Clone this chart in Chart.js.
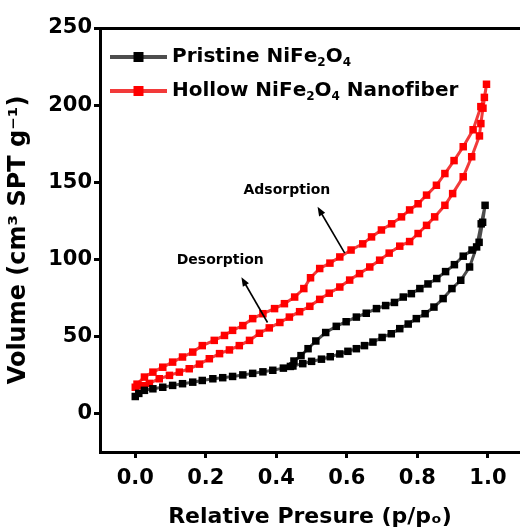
<!DOCTYPE html>
<html><head><meta charset="utf-8">
<script src="https://cdn.jsdelivr.net/npm/chart.js@4.4.0/dist/chart.umd.min.js"></script>
<style>html,body{margin:0;padding:0;background:#fff;overflow:hidden}canvas{display:block}</style>
</head><body>
<canvas id="c" width="520" height="532"></canvas>
<script>
// ---- data ----
const seriesNames = ['Pristine NiFe₂O₄', 'Hollow NiFe₂O₄ Nanofiber'];

const pristineAdsP = [0.0, 0.01, 0.026, 0.05, 0.078, 0.106, 0.134, 0.163, 0.19, 0.22, 0.248, 0.276, 0.305, 0.333, 0.362, 0.39, 0.42, 0.447, 0.475, 0.50, 0.528, 0.553, 0.58, 0.603, 0.627, 0.65, 0.674, 0.70, 0.726, 0.75, 0.774, 0.797, 0.822, 0.847, 0.873, 0.898, 0.923, 0.948, 0.968, 0.981, 0.992];
const pristineAdsV = [11, 13, 15, 16, 17, 18.2, 19.3, 20.3, 21.4, 22.5, 23.2, 24, 25, 26, 27, 28, 29.4, 30.8, 32.3, 33.8, 35.2, 36.8, 38.6, 40.3, 42, 44, 46.3, 49.3, 51.7, 55, 58, 61.5, 64.7, 69, 74.5, 81, 86.4, 95, 108, 123, 135];
const pristineDesP = [0.985, 0.975, 0.955, 0.93, 0.905, 0.88, 0.855, 0.83, 0.807, 0.783, 0.76, 0.735, 0.71, 0.684, 0.655, 0.627, 0.598, 0.57, 0.54, 0.512, 0.49, 0.47, 0.45, 0.44];
const pristineDesV = [124, 111, 106, 102, 96.5, 92, 87.5, 84, 81, 77.7, 75.5, 72, 70, 68, 65, 62.5, 59.5, 56.5, 52.5, 47, 42, 37.5, 34, 30.5];

const hollowAdsP = [0.0, 0.02, 0.04, 0.068, 0.097, 0.125, 0.153, 0.182, 0.21, 0.239, 0.267, 0.295, 0.324, 0.352, 0.38, 0.41, 0.437, 0.466, 0.495, 0.523, 0.55, 0.58, 0.608, 0.636, 0.665, 0.693, 0.72, 0.75, 0.778, 0.802, 0.826, 0.849, 0.878, 0.90, 0.93, 0.954, 0.976, 0.98, 0.986, 0.996];
const hollowAdsV = [17, 18, 19.5, 22.5, 24.7, 26.8, 29, 32, 35.5, 38.8, 41.2, 44, 47.4, 52, 55.5, 59, 62.5, 66, 69.5, 74, 78, 82, 86.5, 90.7, 95, 99.4, 104, 108.5, 111.5, 116.7, 122, 127.5, 135, 142.6, 153.5, 166.5, 180, 188, 198, 213.5];
const hollowDesP = [0.99, 0.98, 0.958, 0.93, 0.904, 0.878, 0.854, 0.826, 0.802, 0.778, 0.755, 0.727, 0.698, 0.67, 0.645, 0.612, 0.58, 0.552, 0.523, 0.497, 0.478, 0.452, 0.423, 0.395, 0.362, 0.333, 0.305, 0.276, 0.253, 0.224, 0.19, 0.163, 0.134, 0.106, 0.078, 0.05, 0.026, 0.005];
const hollowDesV = [205, 199, 184, 173, 164, 155.6, 148, 141.6, 136, 132, 127.5, 123, 119, 114.5, 110, 106, 101.5, 97.5, 94, 88, 81, 75.5, 71.2, 68, 64.7, 61.5, 57, 53.9, 50.6, 47.4, 44, 39.8, 36.6, 33.3, 30, 26.8, 23.6, 19];

const xTickValues = [0.0, 0.2, 0.4, 0.6, 0.8, 1.0];
const yTickValues = [0, 50, 100, 150, 200, 250];
const xTitle = 'Relative Presure (p/pₒ)';
const yTitle = 'Volume (cm³ SPT g⁻¹)';
const noteTexts = ['Adsorption', 'Desorption'];
// ---- end data ----

function toPts(ps, vs) { return ps.map((p, i) => ({ x: p, y: vs[i] })); }
const pristineLoop = toPts(pristineAdsP, pristineAdsV).concat(toPts(pristineDesP, pristineDesV));
const hollowLoop = toPts(hollowAdsP, hollowAdsV).concat(toPts(hollowDesP, hollowDesV));

const FONT = 'DejaVu Sans';

// draws text where unicode subscript digits are rendered as real smaller subscripts
function drawRich(ctx, text, x, y, size) {
  const subMap = { '₀':'0','₁':'1','₂':'2','₃':'3','₄':'4','₅':'5','₆':'6','₇':'7','₈':'8','₉':'9' };
  let cx = x;
  for (const ch of text) {
    if (subMap[ch]) {
      ctx.font = 'bold ' + Math.round(size * 0.62) + 'px "' + FONT + '"';
      ctx.fillText(subMap[ch], cx, y + size * 0.28);
      cx += ctx.measureText(subMap[ch]).width;
    } else {
      ctx.font = 'bold ' + size + 'px "' + FONT + '"';
      ctx.fillText(ch, cx, y);
      cx += ctx.measureText(ch).width;
    }
  }
}

const legendPlugin = {
  id: 'lineLegend',
  afterDraw(chart) {
    const ctx = chart.ctx, a = chart.chartArea;
    chart.data.datasets.forEach((ds, i) => {
      const y = a.top + 29 + i * 34;
      const x0 = a.left + 10, x1 = a.left + 67;
      ctx.save();
      ctx.strokeStyle = ds.borderColor; ctx.lineWidth = 4;
      ctx.beginPath(); ctx.moveTo(x0, y); ctx.lineTo(x1, y); ctx.stroke();
      ctx.fillStyle = ds.pointBackgroundColor;
      const s = 10, mx = (x0 + x1) / 2;
      ctx.fillRect(mx - s / 2, y - s / 2, s, s);
      ctx.fillStyle = '#000'; ctx.textBaseline = 'middle'; ctx.textAlign = 'left';
      drawRich(ctx, ds.label, x1 + 5, y, 20);
      ctx.restore();
    });
  }
};

const notes = [
  { text: noteTexts[0], at: [0.43, 145], head: [0.517, 134], tail: [0.594, 104] },
  { text: noteTexts[1], at: [0.241, 99.5], head: [0.301, 88.3], tail: [0.375, 59] }
];
const notePlugin = {
  id: 'notes',
  afterDatasetsDraw(chart) {
    const ctx = chart.ctx, xs = chart.scales.x, ys = chart.scales.y;
    ctx.save();
    notes.forEach(n => {
      ctx.fillStyle = '#000';
      ctx.font = 'bold 14px "' + FONT + '"';
      ctx.textAlign = 'center'; ctx.textBaseline = 'middle';
      ctx.fillText(n.text, xs.getPixelForValue(n.at[0]), ys.getPixelForValue(n.at[1]));
      const hx = xs.getPixelForValue(n.head[0]), hy = ys.getPixelForValue(n.head[1]);
      const tx = xs.getPixelForValue(n.tail[0]), ty = ys.getPixelForValue(n.tail[1]);
      const ang = Math.atan2(hy - ty, hx - tx);
      ctx.strokeStyle = '#000'; ctx.lineWidth = 1.6;
      ctx.beginPath(); ctx.moveTo(tx, ty);
      ctx.lineTo(hx - 6 * Math.cos(ang), hy - 6 * Math.sin(ang)); ctx.stroke();
      ctx.beginPath();
      ctx.moveTo(hx, hy);
      ctx.lineTo(hx - 9 * Math.cos(ang) + 3.5 * Math.sin(ang), hy - 9 * Math.sin(ang) - 3.5 * Math.cos(ang));
      ctx.lineTo(hx - 9 * Math.cos(ang) - 3.5 * Math.sin(ang), hy - 9 * Math.sin(ang) + 3.5 * Math.cos(ang));
      ctx.closePath(); ctx.fill();
    });
    ctx.restore();
  }
};

Chart.defaults.font.family = FONT;
Chart.defaults.color = '#000';

new Chart(document.getElementById('c'), {
  type: 'scatter',
  data: {
    datasets: [
      { label: seriesNames[0], data: pristineLoop, showLine: true, borderColor: '#4d4d4d', borderWidth: 3,
        pointStyle: 'rect', pointRadius: 5.3, pointBackgroundColor: '#000', pointBorderColor: '#000', pointBorderWidth: 0 },
      { label: seriesNames[1], data: hollowLoop, showLine: true, borderColor: '#f23a3a', borderWidth: 3,
        pointStyle: 'rect', pointRadius: 5.3, pointBackgroundColor: '#ff0000', pointBorderColor: '#ff0000', pointBorderWidth: 0 }
    ]
  },
  options: {
    responsive: false, animation: false,
    layout: { autoPadding: false, padding: { top: 28, left: 0, right: 0, bottom: 0 } },
    plugins: { legend: { display: false }, tooltip: { enabled: false } },
    scales: {
      x: {
        type: 'linear', position: 'bottom', min: -0.1, max: 1.091,
        afterBuildTicks: s => { s.ticks = xTickValues.map(v => ({ value: v })); },
        afterFit: s => { s.height = 80; s.paddingLeft = 0; s.paddingRight = 0; },
        ticks: { font: { size: 21, weight: 'bold' }, color: '#000', padding: 8, maxRotation: 0, autoSkip: false,
                 callback: v => Number(v).toFixed(1) },
        grid: { drawOnChartArea: false, tickLength: 6, tickWidth: 3, tickColor: '#000', color: '#000' },
        border: { width: 3, color: '#000' },
        title: { display: true, text: xTitle, font: { size: 22, weight: 'bold' }, color: '#000', padding: { top: 0, bottom: 2 } }
      },
      xTop: {
        type: 'linear', position: 'top', min: 0, max: 1,
        afterFit: s => { s.height = 0; s.paddingLeft = 0; s.paddingRight = 0; },
        ticks: { display: false },
        grid: { drawOnChartArea: false, drawTicks: false },
        border: { width: 3, color: '#000' }
      },
      y: {
        type: 'linear', position: 'left', min: -25, max: 250,
        afterBuildTicks: s => { s.ticks = yTickValues.map(v => ({ value: v })); },
        afterFit: s => { s.width = 100; s.paddingTop = 0; s.paddingBottom = 0; },
        ticks: { font: { size: 21, weight: 'bold' }, color: '#000', padding: 2, autoSkip: false },
        grid: { drawOnChartArea: false, tickLength: 6, tickWidth: 3, tickColor: '#000', color: '#000' },
        border: { width: 3, color: '#000' },
        title: { display: true, text: yTitle, font: { size: 24, weight: 'bold' }, color: '#000', padding: { top: 4, bottom: 0 } }
      }
    }
  },
  plugins: [legendPlugin, notePlugin]
});
</script>
</body></html>
